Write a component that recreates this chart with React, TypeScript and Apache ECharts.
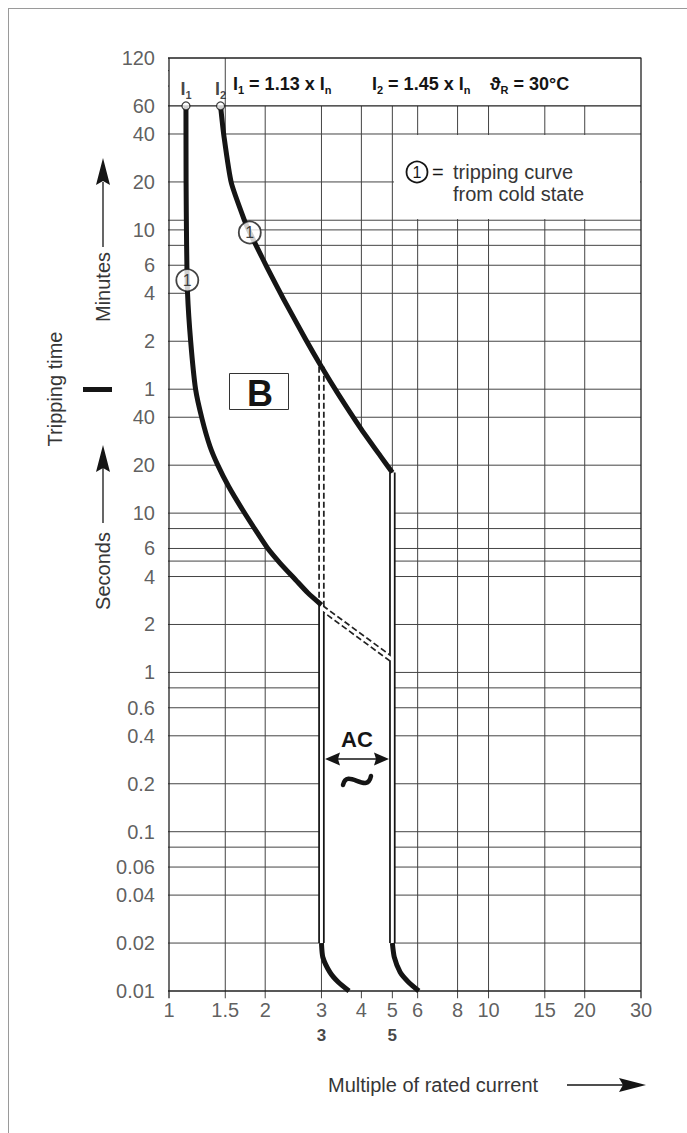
import React, { useEffect, useRef } from 'react';
import * as echarts from 'echarts';

// ---------------- axes ----------------
const X_MIN = 1;
const X_MAX = 30;
const Y_MIN = 0.01; // seconds
const Y_MAX = 7200; // seconds (120 min)
const Y_HEADER = 3600; // 60 min line closing the header band

const X_TICKS = [1, 1.5, 2, 3, 4, 5, 6, 8, 10, 15, 20, 30];
const X_TICK_LABELS = ['1', '1.5', '2', '3', '4', '5', '6', '8', '10', '15', '20', '30'];
const X_BOLD_TICKS = [3, 5];
const X_BOLD_LABELS = ['3', '5'];
const X_GRID = [1.5, 2, 3, 4, 5, 6, 8, 10, 15, 20];
const X_GRID_THROUGH_HEADER = [1.5];

const Y_LABEL_SECONDS = [7200, 3600, 2400, 1200, 600, 360, 240, 120, 60, 40, 20, 10, 6, 4, 2, 1, 0.6, 0.4, 0.2, 0.1, 0.06, 0.04, 0.02, 0.01];
const Y_LABELS = ['120', '60', '40', '20', '10', '6', '4', '2', '1', '40', '20', '10', '6', '4', '2', '1', '0.6', '0.4', '0.2', '0.1', '0.06', '0.04', '0.02', '0.01'];
const Y_GRID_SECONDS = [2400, 1200, 690, 600, 480, 360, 240, 120, 60, 40, 20, 10, 8, 6, 5, 4, 2, 1, 0.8, 0.6, 0.4, 0.2, 0.1, 0.08, 0.06, 0.04, 0.02];
const Y_TICK_ONLY_SECONDS = [6000, 4800];
const X_TICK_OUT = 0.94; // tick marks left of the time axis
const Y_TICK_OUT = 0.009; // tick marks below the current axis

// ---------------- curves [multiple of In, seconds] ----------------
const CURVE_I1: number[][] = [
  [1.13, 3600], [1.131, 1200], [1.135, 500], [1.143, 240], [1.169, 120], [1.211, 60], [1.269, 39],
  [1.343, 26.3], [1.42, 20.1], [1.537, 14.7], [1.699, 10.5], [1.86, 7.9], [2.033, 6.04], [2.225, 4.86],
  [2.488, 3.82], [2.722, 3.15], [3, 2.65],
];
const CURVE_I2: number[][] = [
  [1.45, 3600], [1.485, 2344], [1.566, 1190], [1.725, 683], [1.79, 578], [1.898, 454], [2.03, 347],
  [2.285, 220], [2.673, 124], [3, 83], [3.39, 55.7], [4, 33.6], [4.59, 22.8], [5, 18],
];
const INST_LOW: number[][] = [[3, 0.02], [3.03, 0.0163], [3.19, 0.0131], [3.39, 0.01135], [3.66, 0.01]];
const INST_HIGH: number[][] = [[5, 0.02], [5.07, 0.0163], [5.29, 0.0131], [5.62, 0.01135], [6.05, 0.01]];
const DOUBLE_SOLID: number[][][] = [[[3, 2.65], [3, 0.02]], [[5, 18], [5, 0.02]]];
const DOUBLE_DASHED: number[][][] = [[[3, 83], [3, 2.65]], [[3, 2.55], [5, 1.2]]];
const CIRCLE_MARKS: number[][] = [[1.141, 290], [1.79, 578]];
const LIMIT_POINTS: number[][] = [[1.13, 3600], [1.45, 3600]];
const LIMIT_SUBS = ['1', '2'];

const BAND_POLYGON: number[][] = [
  ...CURVE_I1,
  ...INST_LOW,
  ...INST_HIGH.slice().reverse(),
  ...CURVE_I2.slice().reverse(),
];

const FONT = '"Liberation Sans", Arial, Helvetica, sans-serif';
const TXT = '#363636';
const INK = '#151515';
const BRK = ['-', '-'];

function segments(list: number[][][]) {
  const out: any[] = [];
  list.forEach((s) => { out.push(...s, BRK); });
  return out;
}

function buildOption(): any {
  const gridData: any[] = [
    ...Y_GRID_SECONDS.flatMap((t) => [[X_TICK_OUT, t], [X_MAX, t], BRK]),
    ...Y_TICK_ONLY_SECONDS.flatMap((t) => [[X_TICK_OUT, t], [X_MIN, t], BRK]),
    ...X_GRID.flatMap((x) => [[x, Y_TICK_OUT], [x, X_GRID_THROUGH_HEADER.includes(x) ? Y_MAX : Y_HEADER], BRK]),
  ];
  const frameData: any[] = [
    [X_MIN, Y_TICK_OUT], [X_MIN, Y_MAX], BRK,
    [X_TICK_OUT, Y_MAX], [X_MAX, Y_MAX], [X_MAX, Y_TICK_OUT], BRK,
    [X_TICK_OUT, Y_MIN], [X_MAX, Y_MIN], BRK,
    [X_TICK_OUT, Y_HEADER], [X_MAX, Y_HEADER], BRK,
  ];
  const plain = (name: string, data: any[], z: number, lineStyle: any, extra: any = {}) => ({
    type: 'line', name, data, z, symbol: 'none', showSymbol: false, clip: false,
    connectNulls: false, silent: true, lineStyle, ...extra,
  });
  const curve = (name: string, data: number[][]) =>
    plain(name, data, 6, { color: INK, width: 5, cap: 'butt', join: 'round' }, { smooth: 0.2 });

  const subRich = {
    b: { fontFamily: FONT, fontSize: 18, fontWeight: 'bold', fill: INK, color: INK, lineHeight: 22 },
    s: { fontFamily: FONT, fontSize: 11, fontWeight: 'bold', fill: INK, color: INK, lineHeight: 9, verticalAlign: 'bottom' },
  };

  const textEl = (x: number, y: number, text: string, style: any = {}, rotation = 0) => ({
    type: 'text', x, y, rotation, z: 10, silent: true,
    style: { text, fontFamily: FONT, fontSize: 20, fill: TXT, align: 'center', verticalAlign: 'middle', ...style },
  });

  const graphic: any[] = [
    // page frame (left and top edges of the catalogue box)
    { type: 'line', z: 10, silent: true, shape: { x1: 8.5, y1: 8, x2: 8.5, y2: 1133 }, style: { stroke: '#9a9a9a', lineWidth: 1 } },
    { type: 'line', z: 10, silent: true, shape: { x1: 8, y1: 8.5, x2: 687, y2: 8.5 }, style: { stroke: '#9a9a9a', lineWidth: 1 } },
    // legend box (white) over the grid
    { type: 'rect', z: 2, silent: true, shape: { x: 394, y: 135, width: 246, height: 84 }, style: { fill: '#fff' } },
    { type: 'circle', z: 10, shape: { cx: 417, cy: 172, r: 10.5 }, style: { fill: '#fff', stroke: INK, lineWidth: 1.8 } },
    textEl(417, 172.5, '1', { fontSize: 16, fill: INK }),
    textEl(432, 172, '=', { fontSize: 20, fill: INK, align: 'left' }),
    textEl(453, 172, 'tripping curve', { align: 'left' }),
    textEl(453, 194, 'from cold state', { align: 'left' }),
    // header formulas
    { type: 'text', z: 10, x: 233, y: 84, style: { text: '{b|I}{s|1}{b| = 1.13 x I}{s|n}', rich: subRich, verticalAlign: 'middle', align: 'left' } },
    { type: 'text', z: 10, x: 372, y: 84, style: { text: '{b|I}{s|2}{b| = 1.45 x I}{s|n}', rich: subRich, verticalAlign: 'middle', align: 'left' } },
    { type: 'text', z: 10, x: 490, y: 84, style: { text: '{b|\u03D1}{s|R}{b| = 30\u00B0C}', rich: subRich, verticalAlign: 'middle', align: 'left' } },
    // B box
    { type: 'rect', z: 10, shape: { x: 229.5, y: 373.5, width: 59, height: 36 }, style: { fill: '#fff', stroke: '#333', lineWidth: 1 } },
    textEl(260, 393, 'B', { fontSize: 36, fontWeight: 'bold', fill: INK }),
    // AC arrow
    textEl(357, 739, 'AC', { fontSize: 22, fontWeight: 'bold', fill: INK }),
    { type: 'line', z: 10, shape: { x1: 336, y1: 759, x2: 378, y2: 759 }, style: { stroke: INK, lineWidth: 1.6 } },
    { type: 'polygon', z: 10, shape: { points: [[325, 759], [340, 752.5], [338, 759], [340, 765.5]] }, style: { fill: INK } },
    { type: 'polygon', z: 10, shape: { points: [[389, 759], [374, 752.5], [376, 759], [374, 765.5]] }, style: { fill: INK } },
    {
      type: 'bezierCurve', z: 10,
      shape: { x1: 343, y1: 785, cpx1: 347, cpy1: 767, cpx2: 367, cpy2: 795, x2: 371, y2: 776 },
      style: { stroke: INK, lineWidth: 4.5, fill: 'none', lineCap: 'round' },
    },
    // left axis titles
    textEl(55, 389, 'Tripping time', {}, Math.PI / 2),
    textEl(103, 287, 'Minutes', {}, Math.PI / 2),
    textEl(103, 571, 'Seconds', {}, Math.PI / 2),
    { type: 'line', z: 10, shape: { x1: 103, y1: 247, x2: 103, y2: 182 }, style: { stroke: INK, lineWidth: 1.3 } },
    { type: 'polygon', z: 10, shape: { points: [[103, 158], [96, 185], [103, 181], [110, 185]] }, style: { fill: INK } },
    { type: 'line', z: 10, shape: { x1: 103, y1: 523, x2: 103, y2: 468 }, style: { stroke: INK, lineWidth: 1.3 } },
    { type: 'polygon', z: 10, shape: { points: [[103, 445], [96, 472], [103, 468], [110, 472]] }, style: { fill: INK } },
    { type: 'rect', z: 10, shape: { x: 83, y: 387, width: 29, height: 5 }, style: { fill: INK } },
    // bottom axis title
    textEl(328, 1085, 'Multiple of rated current', { align: 'left' }),
    { type: 'line', z: 10, shape: { x1: 567, y1: 1085, x2: 625, y2: 1085 }, style: { stroke: INK, lineWidth: 1.3 } },
    { type: 'polygon', z: 10, shape: { points: [[646, 1085], [619, 1078], [623, 1085], [619, 1092]] }, style: { fill: INK } },
  ];

  return {
    animation: false,
    backgroundColor: '#ffffff',
    textStyle: { fontFamily: FONT },
    grid: { left: 169, top: 58, width: 472, height: 933, containLabel: false },
    xAxis: {
      type: 'log', logBase: 10, min: X_MIN, max: X_MAX,
      axisLine: { show: false }, axisTick: { show: false }, axisLabel: { show: false }, splitLine: { show: false },
    },
    yAxis: {
      type: 'log', logBase: 10, min: Y_MIN, max: Y_MAX,
      axisLine: { show: false }, axisTick: { show: false }, axisLabel: { show: false }, splitLine: { show: false },
    },
    series: [
      plain('grid', gridData, 1, { color: '#444444', width: 1 }),
      {
        type: 'custom', name: 'tripping band', z: 2, silent: true, clip: false,
        data: [BAND_POLYGON[0]],
        renderItem: (_p: any, api: any) => ({
          type: 'polygon',
          shape: { points: BAND_POLYGON.map((pt) => api.coord(pt)) },
          style: { fill: '#ffffff', stroke: null },
        }),
      },
      plain('frame', frameData, 3, { color: '#222', width: 1.3 }),
      plain('double solid', segments(DOUBLE_SOLID), 4, { color: INK, width: 6.5 }),
      plain('double dashed', segments(DOUBLE_DASHED), 4, { color: '#222', width: 6.5, type: [6, 3] }),
      plain('double core', segments([...DOUBLE_SOLID, ...DOUBLE_DASHED]), 5, { color: '#ffffff', width: 3 }),
      curve('I1 curve', CURVE_I1),
      curve('I2 curve', CURVE_I2),
      curve('instantaneous low', INST_LOW),
      curve('instantaneous high', INST_HIGH),
      {
        type: 'scatter', name: 'marks', z: 7, clip: false, silent: true,
        data: CIRCLE_MARKS, symbol: 'circle', symbolSize: 22,
        itemStyle: { color: '#fff', borderColor: INK, borderWidth: 1.8 },
        label: { show: true, position: 'inside', formatter: '1', fontSize: 16, color: INK, fontFamily: FONT },
      },
      {
        type: 'scatter', name: 'limits', z: 7, clip: false, silent: true,
        data: LIMIT_POINTS.map((p, i) => ({ value: p, name: LIMIT_SUBS[i] })),
        symbol: 'circle', symbolSize: 8,
        itemStyle: { color: '#fff', borderColor: INK, borderWidth: 1.3 },
        label: {
          show: true, position: 'top', distance: 1, formatter: (p: any) => `{b|I}{s|${p.name}}`,
          rich: subRich,
        },
      },
      {
        type: 'scatter', name: 'y labels', z: 7, clip: false, silent: true, symbolSize: 0,
        data: Y_LABEL_SECONDS.map((t, i) => ({ value: [X_MIN, t], name: Y_LABELS[i] })),
        label: { show: true, position: 'left', distance: 14, formatter: '{b}', fontSize: 20, color: TXT, fontFamily: FONT },
      },
      {
        type: 'scatter', name: 'x labels', z: 7, clip: false, silent: true, symbolSize: 0,
        data: X_TICKS.map((x, i) => ({ value: [x, Y_MIN], name: X_TICK_LABELS[i] })),
        label: { show: true, position: 'bottom', distance: 9, formatter: '{b}', fontSize: 20, color: TXT, fontFamily: FONT },
      },
      {
        type: 'scatter', name: 'x bold labels', z: 7, clip: false, silent: true, symbolSize: 0,
        data: X_BOLD_TICKS.map((x, i) => ({ value: [x, Y_MIN], name: X_BOLD_LABELS[i] })),
        label: { show: true, position: 'bottom', distance: 36, formatter: '{b}', fontSize: 17, fontWeight: 'bold', color: INK, fontFamily: FONT },
      },
    ],
    graphic,
  };
}

export default function App() {
  const ref = useRef<HTMLDivElement>(null);
  useEffect(() => {
    document.body.style.margin = '0';
    const chart = echarts.init(ref.current as HTMLDivElement, undefined, { renderer: 'svg' });
    chart.setOption(buildOption());
    return () => chart.dispose();
  }, []);
  return <div ref={ref} style={{ width: 687, height: 1133, background: '#fff' }} />;
}
